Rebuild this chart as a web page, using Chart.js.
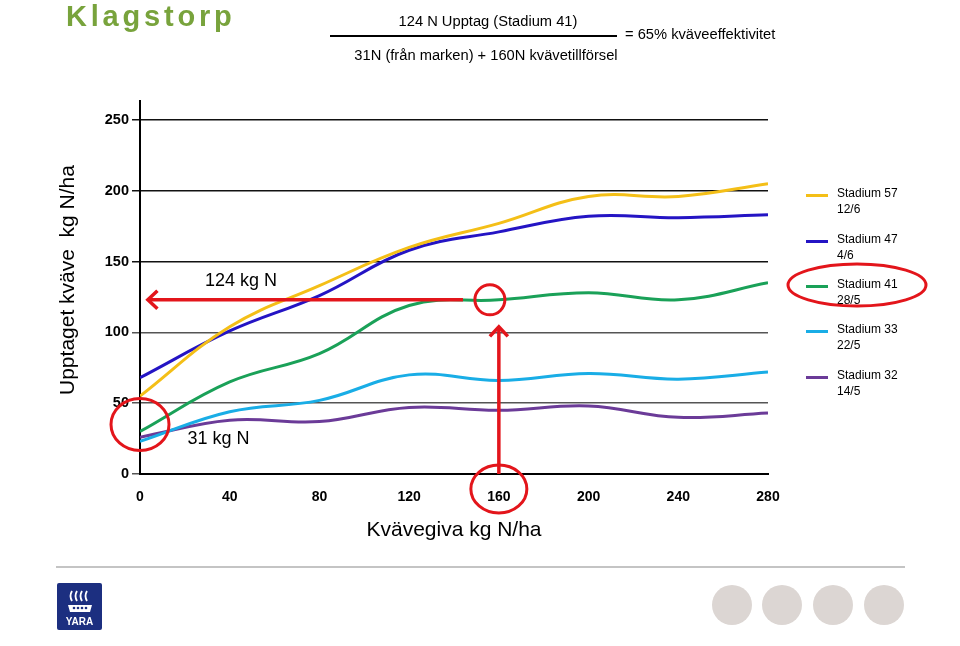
<!DOCTYPE html>
<html><head><meta charset="utf-8">
<script src="https://cdn.jsdelivr.net/npm/chart.js@4.4.1/dist/chart.umd.min.js"></script>
<style>
body{margin:0;background:#fff;font-family:"Liberation Sans",Arial,sans-serif;}
#wrap{position:relative;width:960px;height:646px;overflow:hidden;background:#fff;}
canvas{position:absolute;left:0;top:0;}
.abs{position:absolute;white-space:nowrap;color:#000;}
</style></head><body>
<div id="wrap">
<canvas id="c" width="960" height="646"></canvas>
<div class="abs" style="left:66px;top:2px;font:bold 29px 'Liberation Sans',Arial;line-height:29px;letter-spacing:3.8px;color:#78a33c;">Klagstorp</div>
<div class="abs" style="left:328px;width:320px;top:14px;text-align:center;font:14.7px 'Liberation Sans',Arial;line-height:15px;">124 N Upptag (Stadium 41)</div>
<div class="abs" style="left:330px;top:35px;width:287px;height:2px;background:#000;"></div>
<div class="abs" style="left:326px;width:320px;top:48px;text-align:center;font:14.7px 'Liberation Sans',Arial;line-height:15px;">31N (från marken) + 160N kvävetillförsel</div>
<div class="abs" style="left:625px;top:27px;font:14.7px 'Liberation Sans',Arial;line-height:15px;">= 65% kväveeffektivitet</div>
<div id="legend"></div>
<svg class="abs" style="left:0;top:0;" width="960" height="646">
  <ellipse cx="857" cy="285" rx="69" ry="21" fill="none" stroke="#e3151b" stroke-width="3"/>
</svg>
<div class="abs" style="left:56px;top:566px;width:849px;height:2px;background:#c4c4c4;"></div>
<div class="abs" style="left:57px;top:583px;width:45px;height:47px;background:#1c2f80;border-radius:2px;">
  <svg width="45" height="47" style="position:absolute;left:0;top:0">
    <path d="M15 8 q-3 5 0 10 M20 8 q-3 5 0 10 M25 8 q-3 5 0 10 M30 8 q-3 5 0 10" stroke="#fff" stroke-width="1.8" fill="none"/>
    <path d="M11 22 h24 l-2 7 h-20 z" fill="#fff"/>
    <circle cx="17" cy="25" r="1.3" fill="#1c2f80"/><circle cx="21" cy="25" r="1.3" fill="#1c2f80"/><circle cx="25" cy="25" r="1.3" fill="#1c2f80"/><circle cx="29" cy="25" r="1.3" fill="#1c2f80"/>
  </svg>
  <div style="position:absolute;left:0;width:45px;top:33px;text-align:center;color:#fff;font:bold 10px 'Liberation Sans',Arial;line-height:11px;">YARA</div>
</div>
<div class="abs" style="left:712px;top:585px;width:40px;height:40px;border-radius:50%;background:#dcd6d3;"></div>
<div class="abs" style="left:762px;top:585px;width:40px;height:40px;border-radius:50%;background:#dcd6d3;"></div>
<div class="abs" style="left:813px;top:585px;width:40px;height:40px;border-radius:50%;background:#dcd6d3;"></div>
<div class="abs" style="left:864px;top:585px;width:40px;height:40px;border-radius:50%;background:#dcd6d3;"></div>
</div>
<script>
// ---- data ----
const nitrogenDose = [0, 40, 80, 120, 160, 200, 240, 280];
const stadium57 = [55, 104, 133, 160, 177, 196, 196, 205];
const stadium47 = [68, 101, 126, 158, 171, 182, 181, 183];
const stadium41 = [30, 65, 85, 119, 123, 128, 123, 135];
const stadium33 = [23, 44, 52, 70, 66, 71, 67, 72];
const stadium32 = [26, 38, 37, 47, 45, 48, 40, 43];
const seriesLabels = ['Stadium 57', 'Stadium 47', 'Stadium 41', 'Stadium 33', 'Stadium 32'];
const seriesDates = ['12/6', '4/6', '28/5', '22/5', '14/5'];
const xTickValues = [0, 40, 80, 120, 160, 200, 240, 280];
const yTickValues = [0, 50, 100, 150, 200, 250];
const yAxisTitle = 'Upptaget kväve  kg N/ha';
const xAxisTitle = 'Kvävegiva kg N/ha';

// ---- styles ----
const seriesColors = ['#f4bf17', '#2414c4', '#1aa158', '#19ade6', '#6b3b98'];
const RED = '#e3151b';
const FONT = "'Liberation Sans', Arial, sans-serif";

// annotations (in data units)
const arrowH = {y: 123, from: 144, to: 3.5};
const arrowV = {x: 160, from: 0, to: 104};
const hitCircle = {x: 156, y: 123, r: 15};
const originEllipse = {x: 0, y: 35, rx: 29, ry: 26};
const labelEllipse = {x: 160, dy: 15, rx: 28, ry: 24};
const notes = [{text: '124 kg N', x: 45, y: 136}, {text: '31 kg N', x: 35, y: 25}];

const allSeries = [stadium57, stadium47, stadium41, stadium33, stadium32];
const datasets = allSeries.map((vals, i) => ({
  label: seriesLabels[i],
  data: nitrogenDose.map((x, j) => ({x, y: vals[j]})),
  borderColor: seriesColors[i],
  backgroundColor: seriesColors[i],
  borderWidth: 3,
  pointRadius: 0,
  tension: 0.4,
  fill: false
}));

// HTML legend
const legend = document.getElementById('legend');
const legendY = [193, 239, 284, 329, 375];
seriesLabels.forEach((lab, i) => {
  const ln = document.createElement('div');
  ln.className = 'abs';
  ln.style.cssText = `left:806px;top:${legendY[i] + 1}px;width:22px;height:3px;background:${seriesColors[i]};`;
  legend.appendChild(ln);
  const t = document.createElement('div');
  t.className = 'abs';
  t.style.cssText = `left:837px;top:${legendY[i] - 8}px;font:12px ${FONT};line-height:16px;`;
  t.innerHTML = lab + '<br>' + seriesDates[i];
  legend.appendChild(t);
});

function chevron(ctx, x, y, dir) {
  const L = 12;
  ctx.beginPath();
  if (dir === 'left') {
    ctx.moveTo(x + L * 0.8, y - L * 0.75); ctx.lineTo(x, y); ctx.lineTo(x + L * 0.8, y + L * 0.75);
  } else {
    ctx.moveTo(x - L * 0.75, y + L * 0.8); ctx.lineTo(x, y); ctx.lineTo(x + L * 0.75, y + L * 0.8);
  }
  ctx.stroke();
}

const annot = {
  id: 'annot',
  afterDraw(chart) {
    const {ctx, chartArea} = chart;
    ctx.save();
    // axis line continues a little above the top gridline
    ctx.strokeStyle = '#000';
    ctx.lineWidth = 2;
    ctx.beginPath(); ctx.moveTo(chartArea.left, chartArea.top); ctx.lineTo(chartArea.left, chartArea.top - 20); ctx.stroke();
    // y axis title
    ctx.fillStyle = '#000';
    ctx.font = `21px ${FONT}`;
    ctx.textAlign = 'center';
    ctx.textBaseline = 'middle';
    ctx.translate(68, 280);
    ctx.rotate(-Math.PI / 2);
    ctx.fillText(yAxisTitle, 0, 0);
    ctx.restore();
  },
  afterDatasetsDraw(chart) {
    const {ctx, scales: {x, y}} = chart;
    ctx.save();
    ctx.strokeStyle = RED;
    ctx.lineWidth = 3.5;
    ctx.lineCap = 'butt';
    ctx.lineJoin = 'miter';
    const ay = y.getPixelForValue(arrowH.y);
    const hx1 = x.getPixelForValue(arrowH.from), hx2 = x.getPixelForValue(arrowH.to);
    ctx.beginPath(); ctx.moveTo(hx1, ay); ctx.lineTo(hx2 + 2, ay); ctx.stroke();
    chevron(ctx, hx2, ay, 'left');
    const vx = x.getPixelForValue(arrowV.x);
    const vy1 = y.getPixelForValue(arrowV.from), vy2 = y.getPixelForValue(arrowV.to);
    ctx.beginPath(); ctx.moveTo(vx, vy1); ctx.lineTo(vx, vy2 + 2); ctx.stroke();
    chevron(ctx, vx, vy2, 'up');
    ctx.lineWidth = 3;
    ctx.beginPath();
    ctx.arc(x.getPixelForValue(hitCircle.x), y.getPixelForValue(hitCircle.y), hitCircle.r, 0, Math.PI * 2);
    ctx.stroke();
    ctx.beginPath();
    ctx.ellipse(x.getPixelForValue(originEllipse.x), y.getPixelForValue(originEllipse.y), originEllipse.rx, originEllipse.ry, 0, 0, Math.PI * 2);
    ctx.stroke();
    ctx.beginPath();
    ctx.ellipse(x.getPixelForValue(labelEllipse.x), y.getPixelForValue(0) + labelEllipse.dy, labelEllipse.rx, labelEllipse.ry, 0, 0, Math.PI * 2);
    ctx.stroke();
    ctx.fillStyle = '#000';
    ctx.font = `18px ${FONT}`;
    ctx.textAlign = 'center';
    ctx.textBaseline = 'middle';
    notes.forEach(n => ctx.fillText(n.text, x.getPixelForValue(n.x), y.getPixelForValue(n.y)));
    ctx.restore();
  }
};

new Chart(document.getElementById('c'), {
  type: 'line',
  data: {datasets},
  options: {
    responsive: false,
    animation: false,
    devicePixelRatio: 1,
    layout: {padding: {left: 0, top: 120, right: 192, bottom: 0}},
    plugins: {legend: {display: false}, tooltip: {enabled: false}},
    scales: {
      x: {
        type: 'linear', min: 0, max: 280,
        afterBuildTicks: s => { s.ticks = xTickValues.map(v => ({value: v})); },
        afterFit: s => { s.height = 172; },
        grid: {display: false},
        border: {display: true, color: '#000', width: 2},
        ticks: {color: '#000', padding: 7, font: {family: FONT, size: 14, weight: 'bold'}},
        title: {display: true, text: xAxisTitle, color: '#000',
          font: {family: FONT, size: 21}, padding: {top: 0, bottom: 103}}
      },
      y: {
        min: 0, max: 250,
        afterBuildTicks: s => { s.ticks = yTickValues.map(v => ({value: v})); },
        afterFit: s => { s.width = 140; },
        grid: {color: c => (c.tick && c.tick.value <= 100 ? '#555' : '#111'), lineWidth: 1.5, tickLength: 8, drawTicks: true},
        border: {display: true, color: '#000', width: 2},
        ticks: {color: '#000', padding: 3, font: {family: FONT, size: 14.5, weight: 'bold'}},
        title: {display: false, text: yAxisTitle}
      }
    }
  },
  plugins: [annot]
});
</script>
</body></html>
